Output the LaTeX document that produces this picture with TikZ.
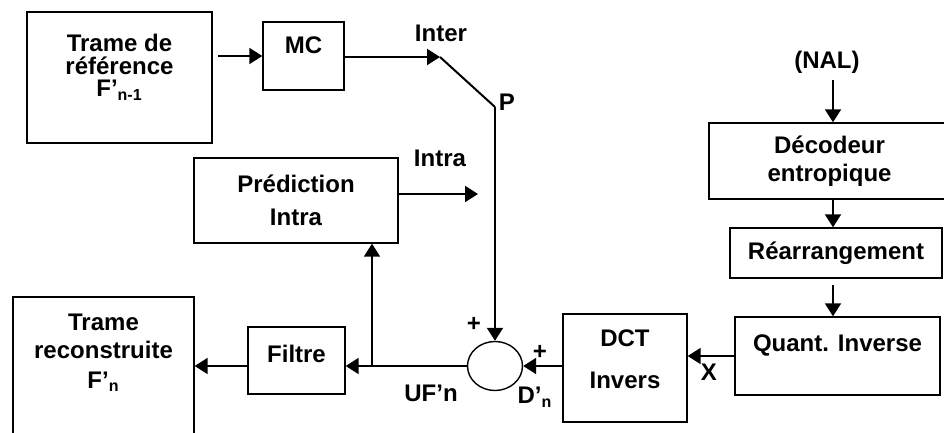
\documentclass[tikz,border=0pt]{standalone}
\usepackage{fontspec}
\setmainfont{Liberation Sans}
\usetikzlibrary{arrows.meta,shapes.geometric,calc}

\begin{document}
\begin{tikzpicture}[x=0.5pt, y=-0.5pt,
    box/.style={draw, line width=0.7pt, align=center, inner sep=0pt, font=\bfseries\fontsize{12}{14}\selectfont},
    sumnode/.style={draw, ellipse, line width=0.7pt, inner sep=0pt, minimum width=27.5pt, minimum height=24.5pt},
    lbl/.style={font=\bfseries\fontsize{12}{14}\selectfont},
    arr/.style={line width=1pt, -{Triangle[length=6.5pt, width=8pt]}},
]
\useasboundingbox (0,0) rectangle (944,433);
\clip (0,0) rectangle (944,433);

% blocs
\node[box, minimum width=92.5pt, minimum height=65.5pt] (ref) at (119.5,77.5) {Trame de\\[-2.5pt]référence\\[-3pt]F’\textsubscript{n-1}\\[-2pt]\mbox{}};
\node[box, minimum width=40.5pt, minimum height=34pt] (mc) at (303.5,56) {MC\\[-3pt]\mbox{}};
\node[box, minimum width=102pt, minimum height=42.5pt] (pred) at (296,200.5) {Prédiction\\[2.5pt]Intra};
\node[box, minimum width=90.5pt, minimum height=71.5pt] (rec) at (103.5,368.5) {Trame\\reconstruite\\[1pt]F’\textsubscript{n}\\[3.5pt]\mbox{}};
\node[box, minimum width=48.5pt, minimum height=33.5pt] (filtre) at (296.5,360.5) {Filtre\\[-7pt]\mbox{}};
\node[sumnode] (sum) at (495,366) {};
\node[box, minimum width=62pt, minimum height=54pt] (dct) at (625,368) {DCT\\[7pt]Invers\\[-5pt]\mbox{}};
\node[box, minimum width=102.5pt, minimum height=39pt] (quant) at (837.5,356) {Quant. Inverse\\[-1pt]\mbox{}};
\node[box, minimum width=106pt, minimum height=25pt] (rearr) at (836,253) {Réarrangement};
\node[box, minimum width=120.5pt, minimum height=38pt] (deco) at (829.5,161) {Décodeur\\entropique};
\node[lbl] (nal) at (827,62) {(NAL)};

% points
\coordinate (inter) at (440,57);
\coordinate (p) at (495,107);
\coordinate (intra) at (478,194);
\coordinate (jn) at (372,366);
\coordinate (col) at (833,0);

% liaisons
\draw[arr, shorten <=2.5pt] (ref.east |- mc.west) -- (mc.west);
\draw[arr] (mc.east |- inter) -- (inter);
\draw[line width=1pt] (inter) -- (p);
\draw[arr] (p) -- (sum.north);
\draw[arr] (pred.east |- intra) -- (intra);
\draw[arr] (sum.west) -- (sum.west -| filtre.east);
\draw[arr] (jn) -- (jn |- pred.south);
\draw[arr] (filtre.west |- sum.west) -- (rec.east |- sum.west);
\draw[arr] (dct.west |- sum.east) -- (sum.east);
\draw[arr] (quant.west) -- (quant.west -| dct.east);
\draw[arr] (col |- nal.south) -- (col |- deco.north);
\draw[arr] (col |- deco.south) -- (col |- rearr.north);
\draw[arr, shorten <=3pt] (col |- rearr.south) -- (col |- quant.north);

% etiquettes
\node[lbl] (interlbl) at (441,33) {Inter};
\node[lbl] (plbl) at (507,102) {P};
\node[lbl] (intralbl) at (440,158) {Intra};
\node[lbl] (plusa) at (474,324) {+};
\node[lbl] (plusb) at (540,352) {+};
\node[lbl] (uflbl) at (431,393) {UF’n};
\node[lbl] (dlbl) at (535,397) {D’\textsubscript{n}};
\node[lbl] (xlbl) at (709,372) {X};
\end{tikzpicture}
\end{document}
